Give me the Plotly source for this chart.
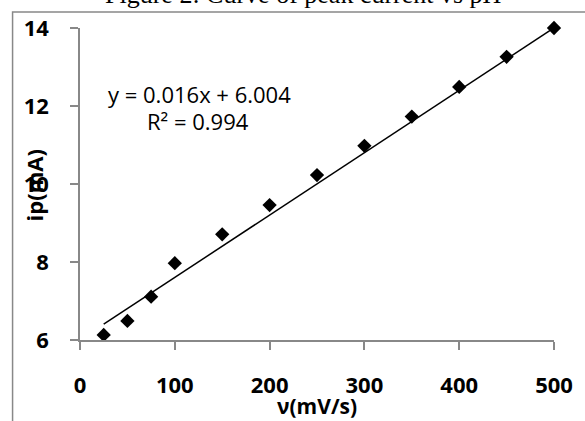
import plotly.graph_objects as go

# ---- data ----
scan_rate = [25, 50, 75, 100, 150, 200, 250, 300, 350, 400, 450, 500]
peak_current = [6.13, 6.49, 7.11, 7.97, 8.71, 9.46, 10.23, 10.98, 11.73, 12.49, 13.26, 14.0]
trend_slope = 0.016
trend_intercept = 6.004
trend_label = "y = 0.016x + 6.004"
r2_label = "R² = 0.994"
x_ticks = [0, 100, 200, 300, 400, 500]
y_ticks = [6, 8, 10, 12, 14]
title_text = "Figure 2: Curve of peak current vs pH"
x_title = "ν(mV/s)"
y_title = "ip(mA)"

W, H = 585, 421
L, R, T, B = 80, 27, 28, 81
pw, ph = W - L - R, H - T - B

def px_x(p):
    return (p - L) / pw

def px_y(p):
    return (H - B - p) / ph

trend_x = [min(scan_rate), max(scan_rate)]
trend_y = [trend_slope * v + trend_intercept for v in trend_x]

axis_grey = "#888888"

fig = go.Figure()
fig.add_trace(go.Scatter(x=trend_x, y=trend_y, mode="lines", cliponaxis=False,
                         line=dict(color="black", width=1.5), hoverinfo="skip"))
fig.add_trace(go.Scatter(x=scan_rate, y=peak_current, mode="markers", cliponaxis=False,
                         marker=dict(symbol="diamond", size=11, color="black")))

tick_font = dict(family="Open Sans", size=22, color="black", weight="bold")

fig.update_layout(
    width=W, height=H,
    margin=dict(l=L, r=R, t=T, b=B),
    paper_bgcolor="white", plot_bgcolor="white",
    showlegend=False,
    xaxis=dict(range=[0, 500], tickvals=x_ticks, ticks="outside", ticklen=8,
               tickcolor=axis_grey, tickwidth=1.5, showline=True, linecolor=axis_grey,
               linewidth=1.5, showgrid=False, zeroline=False, tickfont=tick_font,
               ticklabelstandoff=17),
    yaxis=dict(range=[6, 14], tickvals=y_ticks, ticks="outside", ticklen=8,
               tickcolor=axis_grey, tickwidth=1.5, showline=True, linecolor=axis_grey,
               linewidth=1.5, showgrid=False, zeroline=False, tickfont=tick_font,
               ticklabelstandoff=17),
    shapes=[dict(type="rect", xref="paper", yref="paper",
                 x0=px_x(12), y0=px_y(H + 50), x1=px_x(W + 50), y1=px_y(12),
                 line=dict(color=axis_grey, width=1.5), layer="below")],
    annotations=[
        dict(text=title_text, xref="paper", yref="paper", x=px_x(305), y=px_y(6),
             xanchor="center", yanchor="bottom", showarrow=False, yshift=-5,
             font=dict(family="Liberation Serif", size=26, color="black")),
        dict(text=trend_label, xref="paper", yref="paper", x=px_x(201), y=px_y(94),
             xanchor="center", yanchor="middle", showarrow=False,
             font=dict(family="Open Sans", size=22, color="black")),
        dict(text=r2_label, xref="paper", yref="paper", x=px_x(199), y=px_y(121),
             xanchor="center", yanchor="middle", showarrow=False,
             font=dict(family="Open Sans", size=22, color="black")),
        dict(text=x_title, xref="paper", yref="paper", x=px_x(319), y=px_y(406),
             xanchor="center", yanchor="middle", showarrow=False,
             font=dict(family="Open Sans", size=21, color="black", weight="bold")),
        dict(text=y_title, xref="paper", yref="paper", x=px_x(34), y=px_y(185),
             xanchor="center", yanchor="middle", showarrow=False, textangle=-90,
             font=dict(family="Open Sans", size=22, color="black", weight="bold")),
    ],
)

fig.write_html("out.html")
